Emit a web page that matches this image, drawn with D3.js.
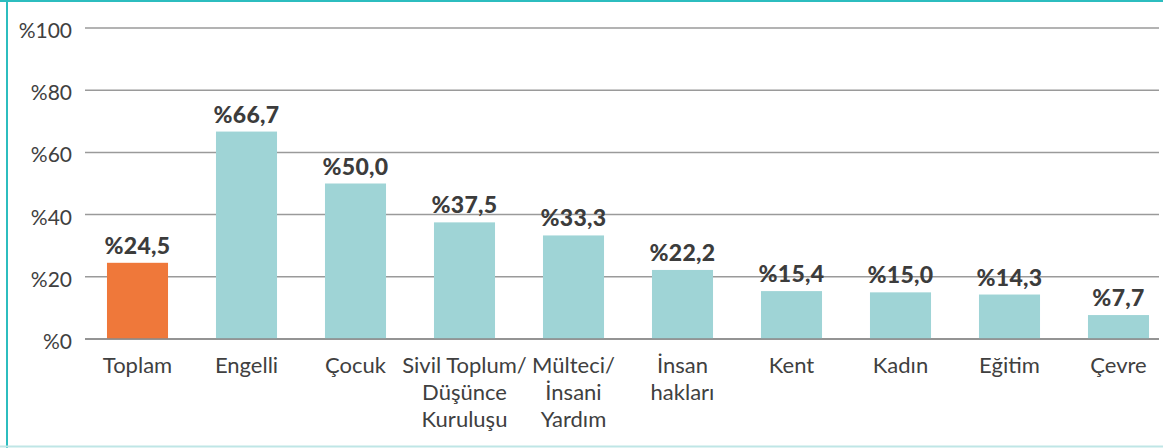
<!DOCTYPE html>
<html><head><meta charset="utf-8">
<script src="https://cdn.jsdelivr.net/npm/d3@7"></script>
<style>
html,body{margin:0;padding:0;background:#fff;}
svg{display:block;}
</style></head>
<body>
<svg id="c" width="1163" height="448"></svg>
<script>
const categories = [["Toplam"],["Engelli"],["Çocuk"],["Sivil Toplum/","Düşünce","Kuruluşu"],["Mülteci/","İnsani","Yardım"],["İnsan","hakları"],["Kent"],["Kadın"],["Eğitim"],["Çevre"]];
const values = [24.5,66.7,50.0,37.5,33.3,22.2,15.4,15.0,14.3,7.7];
const tickValues = [0,20,40,60,80,100];
const highlight = [true,false,false,false,false,false,false,false,false,false];

const svg = d3.select("#c");
const W = 1163, H = 448;
const font = "Lato, 'Open Sans', sans-serif";

// frame
svg.append("line").attr("x1",0).attr("x2",W).attr("y1",1).attr("y2",1).attr("stroke","#2cbdbf").attr("stroke-width",2);
svg.append("line").attr("x1",7).attr("x2",7).attr("y1",0).attr("y2",H).attr("stroke","#2cbdbf").attr("stroke-width",2);
svg.append("line").attr("x1",0).attr("x2",W).attr("y1",446.5).attr("y2",446.5).attr("stroke","#bfe6e6").attr("stroke-width",2);

const y = d3.scaleLinear().domain([0,100]).range([339,28]);
const idx = values.map((d,i)=>i);
const x = d3.scaleBand().domain(idx).range([83,1173]).paddingInner(0.44).paddingOuter(0.22);

// grid
const gx0 = 85, gx1 = 1159;
svg.append("g").selectAll("line").data(tickValues).join("line")
  .attr("x1",gx0).attr("x2",gx1)
  .attr("y1",d=>y(d)).attr("y2",d=>y(d))
  .attr("stroke","#9a9a9a").attr("stroke-width",1.5);

svg.append("g").selectAll("text").data(tickValues).join("text")
  .attr("x",72).attr("y",d=>y(d)+10)
  .attr("text-anchor","end")
  .attr("font-family",font).attr("font-size",21).attr("fill","#404040")
  .text(d=>"%"+d);

// bars
svg.append("g").selectAll("rect").data(idx).join("rect")
  .attr("x",i=>x(i)).attr("width",x.bandwidth())
  .attr("y",i=>y(values[i])).attr("height",i=>y(0)-y(values[i]))
  .attr("fill",i=>highlight[i]?"#ef783a":"#9fd4d6");

// redraw baseline over bars
svg.append("line").attr("x1",gx0).attr("x2",gx1).attr("y1",y(0)).attr("y2",y(0)).attr("stroke","#8a8a8a").attr("stroke-width",1.5);

// value labels
svg.append("g").selectAll("text").data(idx).join("text")
  .attr("x",i=>x(i)+x.bandwidth()/2).attr("y",i=>y(values[i])-9)
  .attr("text-anchor","middle")
  .attr("font-family",font).attr("font-weight","900").attr("font-size",23).attr("fill","#3c3c3c")
  .attr("letter-spacing",0.3)
  .text(i=>"%"+values[i].toFixed(1).replace(".",","));

// category labels
const cg = svg.append("g").selectAll("text").data(idx).join("text")
  .attr("x",i=>x(i)+x.bandwidth()/2).attr("y",373)
  .attr("text-anchor","middle")
  .attr("font-family",font).attr("font-size",22).attr("fill","#404040");
cg.each(function(i){
  const t = d3.select(this);
  categories[i].forEach((s,k)=>{
    t.append("tspan").attr("x",x(i)+x.bandwidth()/2).attr("dy",k===0?0:27).text(s);
  });
});
</script>
</body></html>
